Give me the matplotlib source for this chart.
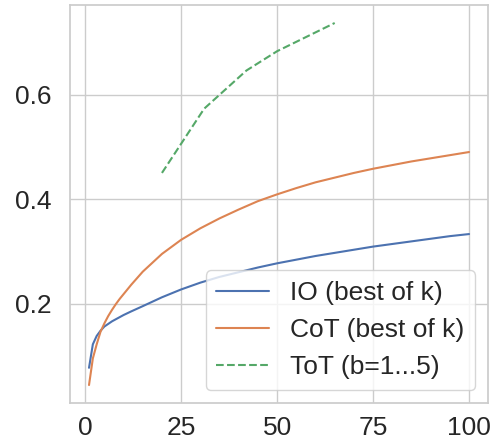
import matplotlib
matplotlib.use("Agg")
import matplotlib.pyplot as plt
import seaborn as sns

sns.set_theme(style="whitegrid")
plt.rcParams['font.family'] = ['Liberation Sans', 'DejaVu Sans']

k_vals = [1, 2, 3, 4, 5, 6, 7, 8, 9, 10, 12, 15, 20, 25, 30, 35, 40, 45, 50,
          55, 60, 65, 70, 75, 80, 85, 90, 95, 100]
io_vals = [0.077, 0.122, 0.138, 0.148, 0.156, 0.161, 0.166, 0.170, 0.174, 0.178,
           0.185, 0.195, 0.212, 0.227, 0.240, 0.251, 0.260, 0.269, 0.277,
           0.284, 0.291, 0.297, 0.303, 0.309, 0.314, 0.319, 0.324, 0.329, 0.333]
cot_vals = [0.044, 0.095, 0.122, 0.146, 0.162, 0.176, 0.188, 0.199, 0.209, 0.218,
            0.236, 0.261, 0.295, 0.322, 0.344, 0.363, 0.380, 0.396, 0.409,
            0.421, 0.432, 0.441, 0.450, 0.458, 0.465, 0.472, 0.478, 0.484, 0.490]
tot_x = [20, 31, 42, 50, 65]
tot_vals = [0.45, 0.573, 0.646, 0.683, 0.737]

labels = ["IO (best of k)", "CoT (best of k)", "ToT (b=1...5)"]
pal = sns.color_palette("deep")

fig = plt.figure(figsize=(4.93, 4.44), dpi=100)
ax = fig.add_axes([0.142, 0.092, 0.848, 0.897])
ax.plot(k_vals, io_vals, color=pal[0], lw=1.5, label=labels[0])
ax.plot(k_vals, cot_vals, color=pal[1], lw=1.5, label=labels[1])
ax.plot(tot_x, tot_vals, color=pal[2], lw=1.5, ls='--', label=labels[2])

ax.set_xticks([0, 25, 50, 75, 100])
ax.set_yticks([0.2, 0.4, 0.6])
ax.tick_params(labelsize=19, colors='#262626')
ax.tick_params(axis='y', pad=7)
ax.legend(loc='lower right', fontsize=19)
fig.savefig("out.png", dpi=100)
